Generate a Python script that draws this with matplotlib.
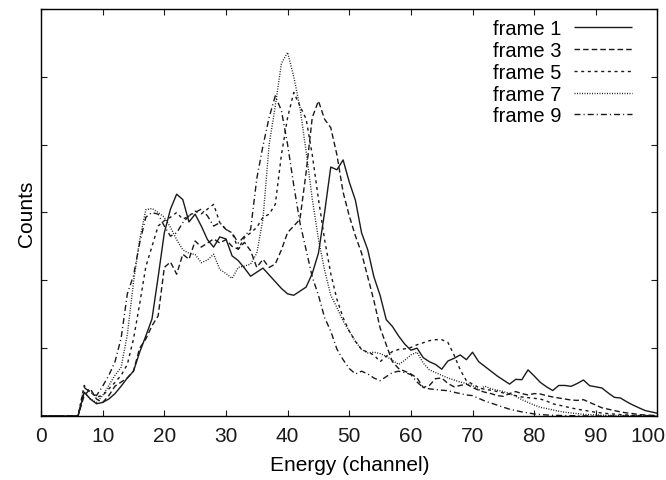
"""Energy spectra of several frames, gnuplot-like style."""

import matplotlib

matplotlib.use("Agg")
import matplotlib.pyplot as plt
from matplotlib.transforms import ScaledTranslation

plt.rcParams["font.family"] = ["Liberation Sans", "DejaVu Sans"]

channels = list(range(0, 101))

frame1 = [0, 0, 0, 0, 0, 0, 0, 350, 250, 180,
          200, 250, 330, 440, 560, 660, 940, 1180, 1430, 2050,
          2700, 3050, 3270, 3190, 2860, 2975, 2800, 2600, 2490, 2640,
          2610, 2360, 2290, 2180, 2060, 2120, 2180, 2080, 1980, 1880,
          1800, 1780, 1840, 1900, 2100, 2400, 3000, 3670, 3630, 3775,
          3450, 3180, 2700, 2450, 2050, 1780, 1420, 1320, 1180, 1060,
          970, 1000, 860, 800, 760, 690, 810, 850, 900, 830,
          940, 800, 730, 660, 590, 530, 470, 540, 535, 680,
          590, 495, 430, 375, 450, 450, 437, 480, 530, 446,
          430, 412, 340, 275, 265, 210, 162, 120, 80, 60,
          40]

frame3 = [0, 0, 0, 0, 0, 0, 0, 300, 400, 250,
          200, 300, 440, 500, 560, 665, 1000, 1135, 1330, 1475,
          2190, 2270, 2090, 2385, 2310, 2580, 2490, 2550, 2610, 2550,
          2600, 2500, 2460, 2560, 2435, 2190, 2310, 2190, 2240, 2450,
          2705, 2800, 2900, 3590, 4400, 4645, 4375, 4250, 3850, 3300,
          2950, 2655, 2400, 2050, 1700, 1300, 1050, 800, 700, 660,
          620, 560, 420, 450, 550, 560, 480, 430, 450, 470,
          420, 380, 350, 330, 300, 290, 330, 360, 330, 310,
          330, 324, 300, 280, 265, 250, 235, 230, 240, 200,
          160, 120, 100, 80, 60, 45, 35, 20, 15, 10,
          5]

frame5 = [0, 0, 0, 0, 0, 0, 0, 450, 350, 280,
          300, 400, 495, 600, 760, 1135, 1650, 2200, 2500, 2800,
          2880, 2930, 3000, 2900, 2950, 3020, 2980, 3050, 3120, 2850,
          2750, 2700, 2460, 2630, 2700, 2780, 2930, 2975, 3120, 3850,
          4400, 4770, 4570, 4380, 3850, 3200, 2600, 2100, 1720, 1450,
          1250, 1100, 980, 940, 900, 800, 880, 950, 980, 990,
          1010, 1050, 1080, 1110, 1125, 1125, 1085, 900, 680, 520,
          470, 420, 390, 380, 360, 340, 320, 300, 280, 270,
          260, 250, 220, 180, 160, 140, 118, 100, 85, 70,
          54, 45, 35, 28, 20, 15, 10, 8, 5, 3,
          2]

frame7 = [0, 0, 0, 0, 0, 0, 0, 350, 250, 200,
          300, 450, 600, 720, 1200, 1970, 2600, 3040, 3060, 3000,
          2930, 2780, 2600, 2450, 2400, 2380, 2260, 2300, 2385, 2160,
          2100, 2030, 2190, 2210, 2240, 2400, 2900, 4000, 4570, 5200,
          5360, 5000, 4550, 3900, 3200, 2610, 2150, 1780, 1600, 1400,
          1250, 1100, 980, 930, 940, 920, 880, 820, 760, 820,
          900, 940, 780, 680, 640, 600, 560, 530, 500, 480,
          450, 380, 440, 400, 380, 360, 330, 290, 240, 200,
          160, 128, 110, 90, 70, 55, 44, 35, 25, 20,
          15, 12, 10, 8, 6, 5, 4, 3, 2, 1,
          0]

frame9 = [0, 0, 0, 0, 0, 0, 0, 420, 350, 300,
          440, 600, 800, 1150, 1800, 2070, 2550, 2930, 3000, 2975,
          2800, 2650, 2700, 2850, 2950, 3000, 3050, 2950, 2800, 2850,
          2750, 2700, 2550, 2650, 2750, 3500, 3980, 4400, 4720, 4500,
          4000, 3400, 2850, 2450, 2050, 1780, 1450, 1250, 985, 830,
          700, 620, 660, 620, 560, 520, 580, 640, 660, 640,
          610, 500, 420, 400, 390, 380, 373, 350, 330, 310,
          300, 260, 220, 190, 160, 130, 100, 80, 60, 45,
          30, 20, 15, 10, 8, 5, 4, 3, 2, 1,
          0, 0, 0, 0, 0, 0, 0, 0, 0, 0,
          0]

labels = ["frame 1", "frame 3", "frame 5", "frame 7", "frame 9"]
x_ticks = [0, 10, 20, 30, 40, 50, 60, 70, 80, 90, 100]
y_ticks = [0, 1000, 2000, 3000, 4000, 5000, 6000]

# dash patterns in points, picked to look like gnuplot's postscript line types
styles = [
    (0, ()),
    (0, (4.0, 2.2)),
    (0, (2.2, 2.6)),
    (0, (0.7, 1.1)),
    (0, (4.3, 2.2, 0.8, 2.2)),
]

fig = plt.figure(figsize=(6.66, 4.81), dpi=100)
ax = fig.add_axes([0.0616, 0.1331, 0.9256, 0.8461])

for series, label, ls in zip([frame1, frame3, frame5, frame7, frame9], labels, styles):
    ax.plot(channels, series, color="#1a1a1a", lw=1.0, ls=ls, label=label)

ax.set_xlim(0, 100)
ax.set_ylim(0, 6000)
ax.set_xticks(x_ticks)
ax.set_yticks(y_ticks)
ax.set_yticklabels([])
ax.tick_params(direction="in", length=4, width=0.8, top=True, right=True,
               labelsize=15, colors="#1a1a1a", pad=7.5)
for spine in ax.spines.values():
    spine.set_linewidth(1.0)

# last label would run off the right edge, nudge it in like the original
last = ax.get_xticklabels()[-1]
last.set_horizontalalignment("right")
last.set_transform(last.get_transform() + ScaledTranslation(0.08, 0, fig.dpi_scale_trans))

ax.set_xlabel("Energy (channel)", fontsize=15, labelpad=7)
ax.set_ylabel("Counts", fontsize=15, labelpad=-4)

ax.legend(loc="upper right", frameon=False, markerfirst=False, fontsize=14.5,
          handlelength=2.9, handletextpad=0.6, labelspacing=0.14,
          borderaxespad=0.0, bbox_to_anchor=(0.972, 0.995))

fig.savefig("out.png", dpi=100)
